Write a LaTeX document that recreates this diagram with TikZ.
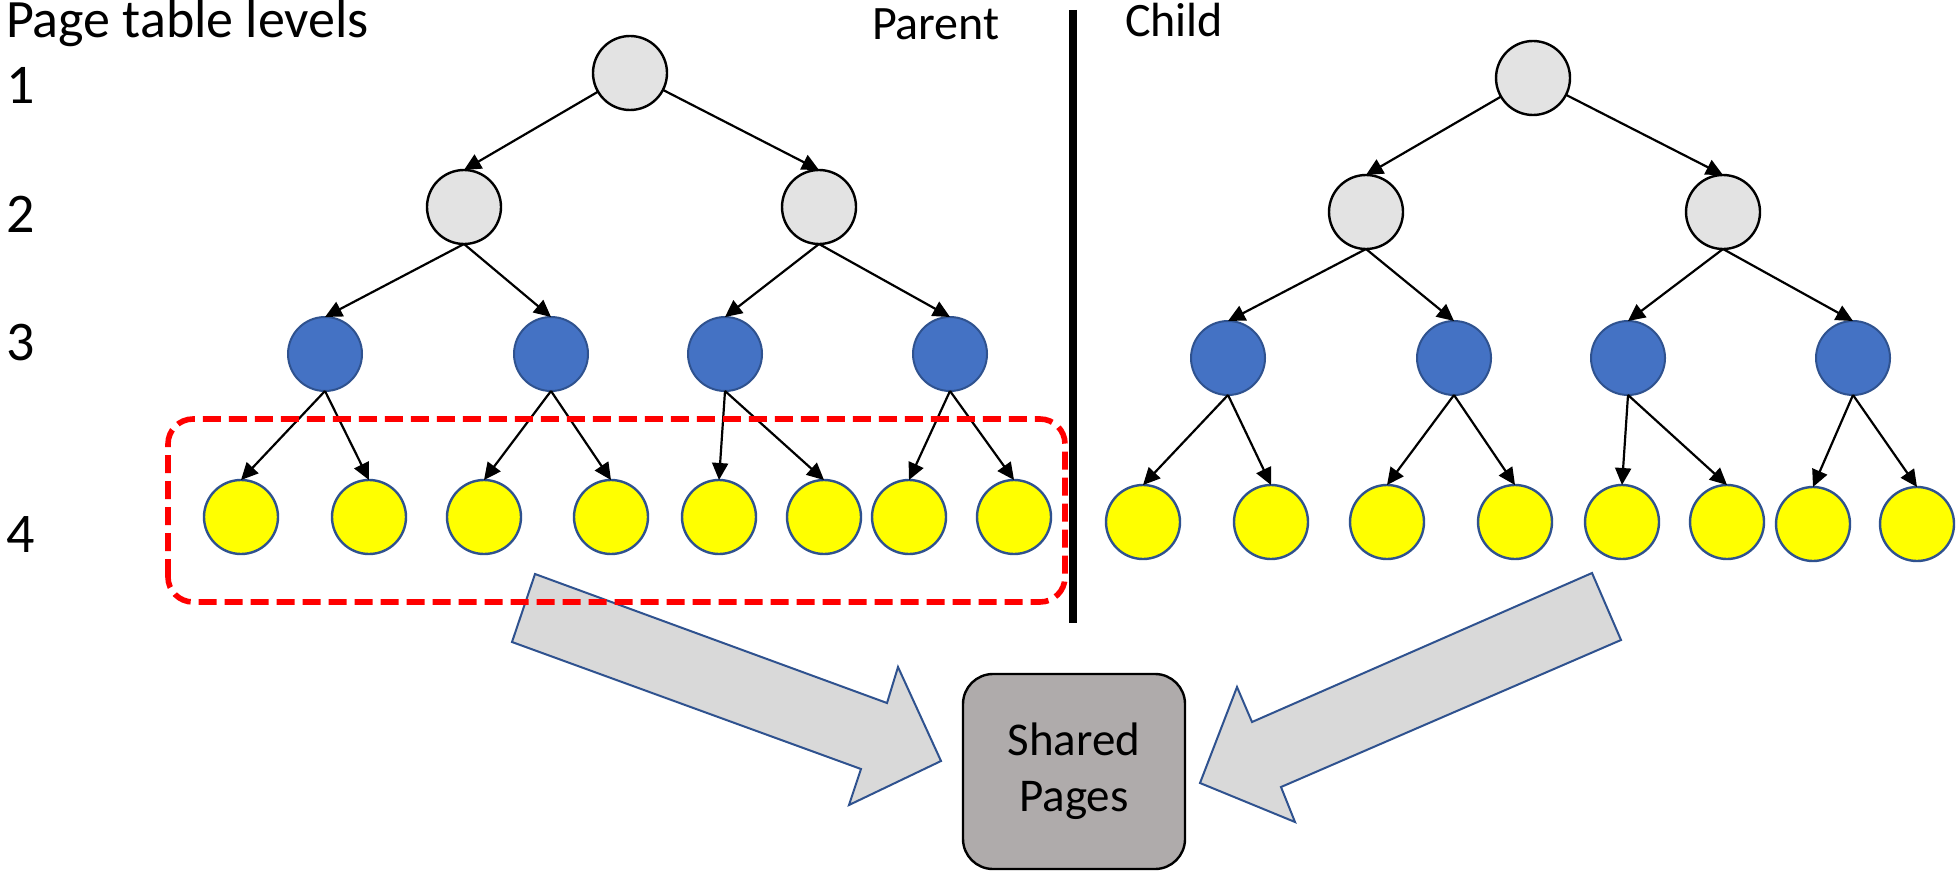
\documentclass[tikz,border=0pt]{standalone}
\usepackage{fontspec}
\setmainfont{Carlito}
\usetikzlibrary{arrows.meta}

\begin{document}
\begin{tikzpicture}[x=1pt,y=1pt,
  upperpt/.style={circle,draw=black,line width=1.2pt,fill=upperFill,minimum size=37pt,inner sep=0pt,outer sep=0pt},
  midpt/.style={circle,draw=borderBlue,line width=1.0pt,fill=midFill,minimum size=37pt,inner sep=0pt,outer sep=0pt},
  leafpt/.style={circle,draw=borderBlue,line width=1.2pt,fill=leafFill,minimum size=37pt,inner sep=0pt,outer sep=0pt},
  ptedge/.style={draw=black,line width=1.1pt,-{Triangle[length=8.5pt,width=8pt]}},
  bigarrow/.style={draw=borderBlue,line width=1.0pt,fill=arrowFill,line join=miter},
  label/.style={text=black,inner sep=0pt,outer sep=0pt}]
\definecolor{upperFill}{RGB}{227,227,227}
\definecolor{midFill}{RGB}{68,114,196}
\definecolor{leafFill}{RGB}{255,255,0}
\definecolor{borderBlue}{RGB}{47,82,143}
\definecolor{arrowFill}{RGB}{217,217,217}
\definecolor{boxFill}{RGB}{175,171,171}
\definecolor{dashRed}{RGB}{255,0,0}
\path[use as bounding box,fill=white] (0,0) rectangle (978.50,437.50);

% labels
\node[label,anchor=base west,font=\fontsize{27}{32}\selectfont] (title) at (  3.00,418.50) {Page table levels};
\node[label,anchor=base,font=\fontsize{28}{32}\selectfont] (lv1) at ( 10.50,385.50) {1};
\node[label,anchor=base,font=\fontsize{28}{32}\selectfont] (lv2) at ( 10.50,321.50) {2};
\node[label,anchor=base,font=\fontsize{28}{32}\selectfont] (lv3) at ( 10.50,257.50) {3};
\node[label,anchor=base,font=\fontsize{28}{32}\selectfont] (lv4) at ( 10.50,161.50) {4};
\node[label,anchor=base west,font=\fontsize{24}{28}\selectfont] (parent) at (436.00,417.50) {Parent};
\node[label,anchor=base west,font=\fontsize{24}{28}\selectfont] (child) at (562.50,419.00) {Child};

% divider
\coordinate (divtop) at (536.50,432.50);
\coordinate (divbot) at (536.50,126.00);
\draw[line width=4pt] (divtop) -- (divbot);

% parent tree
\node[upperpt] (p1) at (315.00,401.00) {};
\node[upperpt] (p2a) at (232.00,334.00) {};
\node[upperpt] (p2b) at (409.50,334.00) {};
\node[midpt] (p3a) at (162.50,260.50) {};
\node[midpt] (p3b) at (275.50,260.50) {};
\node[midpt] (p3c) at (362.50,260.50) {};
\node[midpt] (p3d) at (475.00,260.50) {};
\node[leafpt] (p4a) at (120.50,179.00) {};
\node[leafpt] (p4b) at (184.50,179.00) {};
\node[leafpt] (p4c) at (242.00,179.00) {};
\node[leafpt] (p4d) at (305.50,179.00) {};
\node[leafpt] (p4e) at (359.50,179.00) {};
\node[leafpt] (p4f) at (412.00,179.00) {};
\node[leafpt] (p4g) at (454.50,179.00) {};
\node[leafpt] (p4h) at (507.00,179.00) {};

\draw[ptedge] (p1) -- (p2a.north);
\draw[ptedge] (p1) -- (p2b.north);
\draw[ptedge] (p2a.south) -- (p3a.north);
\draw[ptedge] (p2a.south) -- (p3b.north);
\draw[ptedge] (p2b.south) -- (p3c.north);
\draw[ptedge] (p2b.south) -- (p3d.north);
\draw[ptedge] (p3a.south) -- (p4a.north);
\draw[ptedge] (p3a.south) -- (p4b.north);
\draw[ptedge] (p3b.south) -- (p4c.north);
\draw[ptedge] (p3b.south) -- (p4d.north);
\draw[ptedge] (p3c.south) -- (p4e.north);
\draw[ptedge] (p3c.south) -- (p4f.north);
\draw[ptedge] (p3d.south) -- (p4g.north);
\draw[ptedge] (p3d.south) -- (p4h.north);

% child tree
\node[upperpt] (c1) at (766.50,398.50) {};
\node[upperpt] (c2a) at (683.00,331.50) {};
\node[upperpt] (c2b) at (861.50,331.50) {};
\node[midpt] (c3a) at (614.00,258.50) {};
\node[midpt] (c3b) at (727.00,258.50) {};
\node[midpt] (c3c) at (814.00,258.50) {};
\node[midpt] (c3d) at (926.50,258.50) {};
\node[leafpt] (c4a) at (571.50,176.50) {};
\node[leafpt] (c4b) at (635.50,176.50) {};
\node[leafpt] (c4c) at (693.50,176.50) {};
\node[leafpt] (c4d) at (757.50,176.50) {};
\node[leafpt] (c4e) at (811.00,176.50) {};
\node[leafpt] (c4f) at (863.50,176.50) {};
\node[leafpt] (c4g) at (906.50,175.50) {};
\node[leafpt] (c4h) at (958.50,175.50) {};

\draw[ptedge] (c1) -- (c2a.north);
\draw[ptedge] (c1) -- (c2b.north);
\draw[ptedge] (c2a.south) -- (c3a.north);
\draw[ptedge] (c2a.south) -- (c3b.north);
\draw[ptedge] (c2b.south) -- (c3c.north);
\draw[ptedge] (c2b.south) -- (c3d.north);
\draw[ptedge] (c3a.south) -- (c4a.north);
\draw[ptedge] (c3a.south) -- (c4b.north);
\draw[ptedge] (c3b.south) -- (c4c.north);
\draw[ptedge] (c3b.south) -- (c4d.north);
\draw[ptedge] (c3c.south) -- (c4e.north);
\draw[ptedge] (c3c.south) -- (c4f.north);
\draw[ptedge] (c3d.south) -- (c4g.north);
\draw[ptedge] (c3d.south) -- (c4h.north);

% shared pages and the two block arrows
\node[draw=black,line width=1.2pt,fill=boxFill,rounded corners=15pt,minimum width=111pt,minimum height=97.5pt,align=center,font=\fontsize{23.5}{28}\selectfont,inner sep=0pt] (shared) at (537.00,51.75) {Shared\\Pages};

\path[bigarrow] (267.50,150.50) -- (443.50, 86.00) -- (449.00,104.00) -- (470.50, 57.00)
  -- (424.50, 35.00) -- (430.50, 53.00) -- (256.00,116.50) -- cycle;
\path[bigarrow] (796.00,151.00) -- (626.00, 76.50) -- (618.50, 94.00) -- (600.00, 46.00)
  -- (647.50, 26.50) -- (640.50, 44.00) -- (810.50,117.50) -- cycle;

% copied level
\draw[dashRed,line width=2.8pt,dash pattern=on 9pt off 4pt,rounded corners=12.5pt] (84.00,136.50) rectangle (532.50,228.00);
\end{tikzpicture}
\end{document}
